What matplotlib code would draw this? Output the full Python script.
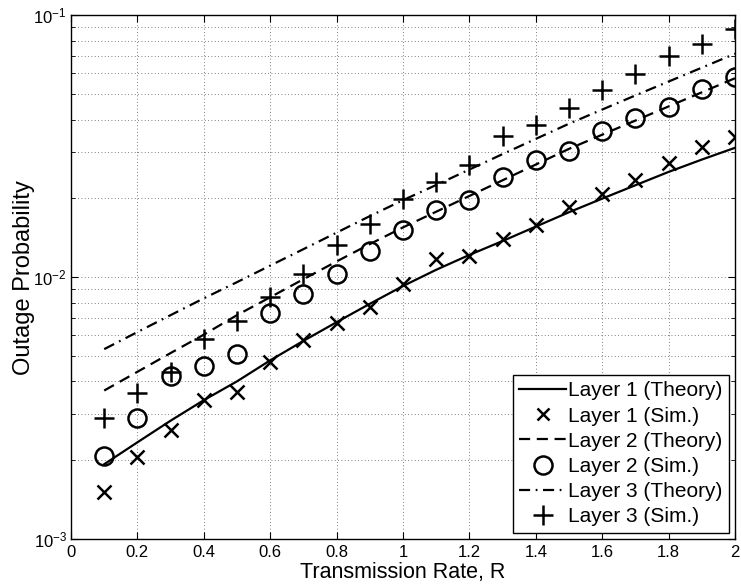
import matplotlib
matplotlib.use("Agg")
import matplotlib.pyplot as plt
from matplotlib.ticker import LogLocator, MultipleLocator, NullFormatter

plt.rcParams['font.family'] = ['Liberation Sans', 'DejaVu Sans']

rate = [0.1, 0.2, 0.3, 0.4, 0.5, 0.6, 0.7, 0.8, 0.9, 1.0,
        1.1, 1.2, 1.3, 1.4, 1.5, 1.6, 1.7, 1.8, 1.9, 2.0]

layer1_theory = [1.93e-3, 2.34e-3, 2.83e-3, 3.39e-3, 4.00e-3, 4.81e-3, 5.71e-3, 6.73e-3, 7.91e-3, 9.25e-3,
                 1.067e-2, 1.216e-2, 1.374e-2, 1.560e-2, 1.770e-2, 1.995e-2, 2.244e-2, 2.523e-2, 2.812e-2, 3.119e-2]
layer1_sim = [1.51e-3, 2.05e-3, 2.60e-3, 3.40e-3, 3.64e-3, 4.74e-3, 5.77e-3, 6.67e-3, 7.66e-3, 9.40e-3,
              1.175e-2, 1.20e-2, 1.40e-2, 1.58e-2, 1.86e-2, 2.07e-2, 2.35e-2, 2.74e-2, 3.13e-2, 3.44e-2]

layer2_theory = [3.69e-3, 4.35e-3, 5.13e-3, 6.03e-3, 7.16e-3, 8.38e-3, 9.82e-3, 1.148e-2, 1.337e-2, 1.549e-2,
                 1.778e-2, 2.042e-2, 2.344e-2, 2.692e-2, 3.090e-2, 3.50e-2, 3.963e-2, 4.487e-2, 5.08e-2, 5.75e-2]
layer2_sim = [2.08e-3, 2.89e-3, 4.18e-3, 4.59e-3, 5.09e-3, 7.28e-3, 8.63e-3, 1.03e-2, 1.26e-2, 1.52e-2,
              1.80e-2, 1.97e-2, 2.42e-2, 2.79e-2, 3.04e-2, 3.60e-2, 4.05e-2, 4.48e-2, 5.21e-2, 5.80e-2]

layer3_theory = [5.31e-3, 6.17e-3, 7.16e-3, 8.30e-3, 9.57e-3, 1.107e-2, 1.279e-2, 1.479e-2, 1.710e-2, 1.968e-2,
                 2.249e-2, 2.576e-2, 2.951e-2, 3.373e-2, 3.855e-2, 4.365e-2, 4.943e-2, 5.585e-2, 6.31e-2, 7.13e-2]
layer3_sim = [2.91e-3, 3.61e-3, 4.36e-3, 5.80e-3, 6.83e-3, 8.43e-3, 1.03e-2, 1.33e-2, 1.60e-2, 1.99e-2,
              2.30e-2, 2.69e-2, 3.46e-2, 3.81e-2, 4.41e-2, 5.18e-2, 5.97e-2, 7.00e-2, 7.80e-2, 8.84e-2]

labels = ["Layer 1 (Theory)", "Layer 1 (Sim.)", "Layer 2 (Theory)",
          "Layer 2 (Sim.)", "Layer 3 (Theory)", "Layer 3 (Sim.)"]

fig = plt.figure(figsize=(7.41, 5.87), dpi=100)
ax = fig.add_axes([71 / 741, 1 - 539 / 587, (735 - 71) / 741, (539 - 15.3) / 587])

lw = 1.6
ax.plot(rate, layer1_theory, color='k', lw=lw, ls='-', label=labels[0])
ax.plot(rate, layer1_sim, color='k', ls='none', marker='x', ms=10, mew=1.8, label=labels[1])
ax.plot(rate, layer2_theory, color='k', lw=lw, ls=(0, (5, 3)), label=labels[2])
ax.plot(rate, layer2_sim, color='k', ls='none', marker='o', ms=13, mew=1.8, mfc='none', label=labels[3])
ax.plot(rate, layer3_theory, color='k', lw=lw, ls=(0, (5, 2.5, 0.8, 2.5)), label=labels[4])
ax.plot(rate, layer3_sim, color='k', ls='none', marker='+', ms=14, mew=1.8, label=labels[5])

ax.set_yscale('log')
ax.set_xlim(0, 2)
ax.set_ylim(1e-3, 1e-1)
ax.xaxis.set_major_locator(MultipleLocator(0.2))
ax.xaxis.set_major_formatter(plt.FuncFormatter(lambda v, p: '0' if abs(v) < 1e-9 else ('%g' % v)))
ax.yaxis.set_major_locator(LogLocator(base=10, numticks=10))
ax.yaxis.set_minor_locator(LogLocator(base=10, subs=range(2, 10), numticks=20))
ax.yaxis.set_minor_formatter(NullFormatter())

ax.grid(True, which='major', ls=(0, (1, 3)), color='#555555', lw=0.6)
ax.grid(True, which='minor', axis='y', ls=(0, (1, 3)), color='#555555', lw=0.6)

ax.tick_params(which='both', direction='in', top=True, right=True, labelsize=12)
ax.tick_params(which='major', length=5, width=0.8, pad=4)
ax.tick_params(axis='y', which='major', pad=3)
ax.tick_params(which='minor', length=3, width=0.6)
for s in ax.spines.values():
    s.set_linewidth(1.0)

ax.set_xlabel('Transmission Rate, R', fontsize=15.5, labelpad=2)
ax.set_ylabel('Outage Probability', fontsize=17, labelpad=-1)

leg = ax.legend(loc='lower right', fontsize=15, frameon=True, fancybox=False,
                edgecolor='k', framealpha=1, handlelength=2.25, handletextpad=0.1,
                borderpad=0.3, labelspacing=0.3, borderaxespad=0.3)
leg.get_frame().set_linewidth(1.0)
leg.legend_handles[1].set_markersize(8)

fig.savefig('out.png', dpi=100)
